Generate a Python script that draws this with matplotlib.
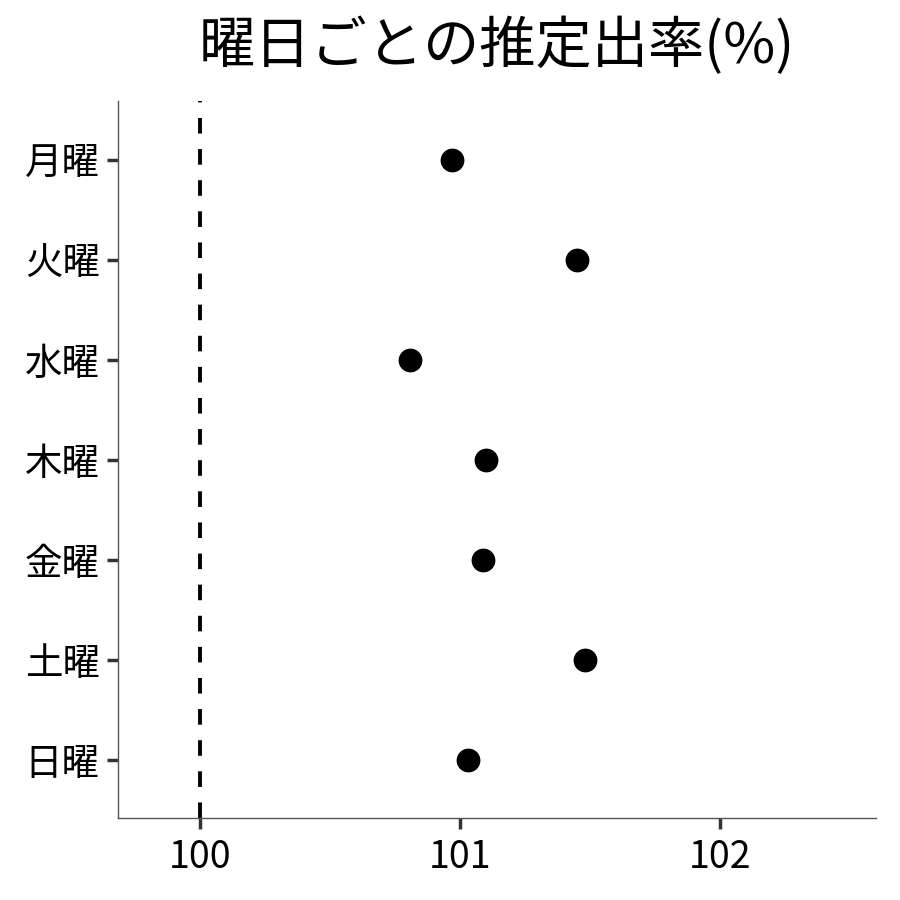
import matplotlib
matplotlib.use("Agg")
import matplotlib.pyplot as plt

plt.rcParams['font.family'] = ['Noto Sans CJK JP', 'DejaVu Sans']

# 曜日ごとの推定出率
days = ['月曜', '火曜', '水曜', '木曜', '金曜', '土曜', '日曜']
rates = [100.97, 101.45, 100.81, 101.10, 101.09, 101.48, 101.03]
xticks = [100, 101, 102]

fig, ax = plt.subplots(figsize=(9, 9), dpi=100)
fig.subplots_adjust(left=0.131, right=0.973, top=0.888, bottom=0.091)

ypos = list(range(len(days)))
ax.scatter(rates, ypos, s=260, color='black', zorder=3)
ax.axvline(100, color='black', linestyle=(0, (4, 4)), linewidth=2.8)

ax.set_yticks(ypos)
ax.set_yticklabels(days)
ax.set_ylim(len(days) - 1 + 0.58, -0.59)
ax.set_xticks(xticks)
ax.set_xticklabels([str(v) for v in xticks])
ax.set_xlim(99.685, 102.6)

for side in ['top', 'right']:
    ax.spines[side].set_visible(False)
for side in ['left', 'bottom']:
    ax.spines[side].set_color('#555555')
    ax.spines[side].set_linewidth(1.0)

ax.tick_params(axis='both', labelsize=27, length=8, width=2.5, color='#333333')
ax.tick_params(axis='y', pad=5)
ax.tick_params(axis='x', pad=6)
ax.set_title('曜日ごとの推定出率(%)', fontsize=40.5, pad=27)

fig.savefig('out.png', dpi=100)
